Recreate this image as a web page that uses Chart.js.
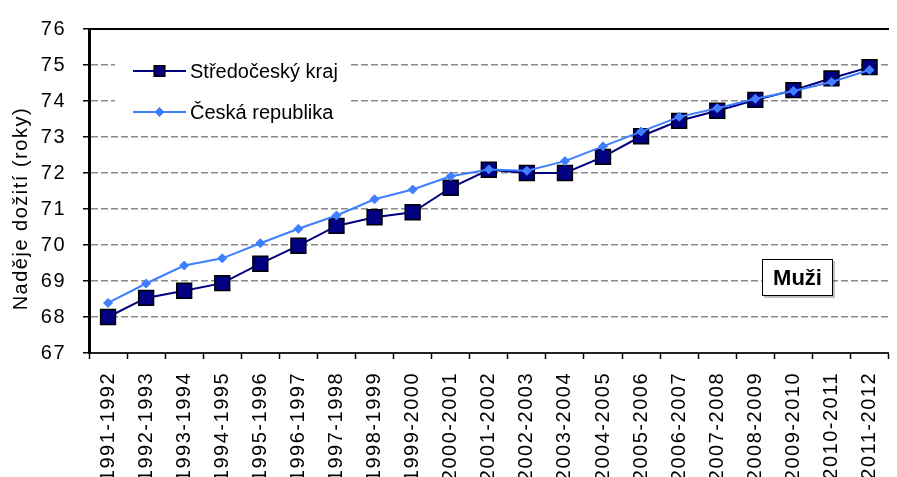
<!DOCTYPE html>
<html lang="cs">
<head>
  <meta charset="UTF-8">
  <title>Naděje dožití – Muži</title>
  <style>
    * { box-sizing: border-box; margin: 0; padding: 0; }
    html, body { width: 897px; height: 477px; overflow: hidden; background: #fff; }
    .wrap { width: 907px; height: 477px; }
  </style>
</head>
<body>
  <div class="wrap"><canvas id="chart" width="907" height="477"></canvas></div>

  <script src="https://cdn.jsdelivr.net/npm/chart.js@4"></script>
  <script>
    const categories = [
      '1991-1992', '1992-1993', '1993-1994', '1994-1995', '1995-1996', '1996-1997', '1997-1998',
      '1998-1999', '1999-2000', '2000-2001', '2001-2002', '2002-2003', '2003-2004', '2004-2005',
      '2005-2006', '2006-2007', '2007-2008', '2008-2009', '2009-2010', '2010-2011', '2011-2012'
    ];
    const stredocesky = [68.00, 68.53, 68.73, 68.94, 69.48, 69.98, 70.53, 70.77, 70.91, 71.59, 72.09,
                         72.00, 72.00, 72.45, 73.02, 73.45, 73.73, 74.03, 74.30, 74.63, 74.94];
    const ceskaRep = [68.39, 68.93, 69.43, 69.63, 70.05, 70.45, 70.82, 71.27, 71.54, 71.91, 72.10,
                      72.06, 72.33, 72.74, 73.15, 73.56, 73.80, 74.06, 74.28, 74.53, 74.86];
    const seriesNames = ['Středočeský kraj', 'Česká republika'];
    const yMin = 67, yMax = 76, yStep = 1;
    const yTitle = 'Naděje dožití (roky)';
    const boxLabel = 'Muži';

    const FONT = "'Liberation Sans', Arial, sans-serif";
    const NAVY = '#000080', BLUE = '#3f7fff';

    // the Excel export has wide letter spacing on axis texts
    const axisSpacing = {
      id: 'axisSpacing',
      beforeDraw(chart) { chart.ctx.letterSpacing = '1.5px'; },
      beforeDatasetsDraw(chart) { chart.ctx.letterSpacing = '0px'; }
    };

    // legend drawn inside the plot, on a white patch (like the Excel original)
    const insideLegend = {
      id: 'insideLegend',
      afterDraw(chart) {
        const ctx = chart.ctx;
        ctx.save();
        ctx.letterSpacing = '0px';
        ctx.fillStyle = '#fff';
        ctx.fillRect(115, 36, 236, 88);
        const rows = [
          { y: 71, ds: chart.data.datasets[0] },
          { y: 112, ds: chart.data.datasets[1] }
        ];
        rows.forEach(r => {
          ctx.strokeStyle = r.ds.borderColor;
          ctx.lineWidth = r.ds.borderWidth;
          ctx.beginPath(); ctx.moveTo(133, r.y); ctx.lineTo(186, r.y); ctx.stroke();
          ctx.fillStyle = r.ds.pointBackgroundColor;
          ctx.strokeStyle = r.ds.pointBorderColor;
          ctx.lineWidth = r.ds.pointBorderWidth;
          Chart.helpers.drawPoint(ctx, {
            pointStyle: r.ds.pointStyle,
            radius: r.ds.pointStyle === 'rect' ? 7.5 : r.ds.pointRadius,
            rotation: 0,
            borderWidth: r.ds.pointBorderWidth
          }, 159.5, r.y);
          ctx.fillStyle = '#000';
          ctx.font = '20px ' + FONT;
          ctx.textBaseline = 'middle';
          ctx.fillText(r.ds.label, 190, r.y + 1);
        });

        // "Muži" box
        ctx.fillStyle = 'rgba(0,0,0,0.25)';
        ctx.fillRect(764, 261, 71, 37);
        ctx.fillStyle = '#fff';
        ctx.fillRect(762, 259, 71, 37);
        ctx.strokeStyle = '#000';
        ctx.lineWidth = 1;
        ctx.strokeRect(762.5, 259.5, 70, 36);
        ctx.fillStyle = '#000';
        ctx.font = 'bold 22px ' + FONT;
        ctx.textAlign = 'center';
        ctx.textBaseline = 'middle';
        ctx.fillText(boxLabel, 797.5, 279);
        ctx.restore();
      }
    };

    new Chart(document.getElementById('chart'), {
      type: 'line',
      data: {
        labels: categories,
        datasets: [
          {
            label: seriesNames[0], data: stredocesky, order: 2,
            borderColor: NAVY, borderWidth: 2, tension: 0,
            pointStyle: 'rect', pointRadius: 10.5,
            pointBackgroundColor: NAVY, pointBorderColor: '#000', pointBorderWidth: 1.5
          },
          {
            label: seriesNames[1], data: ceskaRep, order: 1,
            borderColor: BLUE, borderWidth: 2, tension: 0,
            pointStyle: 'rectRot', pointRadius: 4.5,
            pointBackgroundColor: BLUE, pointBorderColor: BLUE, pointBorderWidth: 1
          }
        ]
      },
      options: {
        responsive: false,
        animation: false,
        events: [],
        layout: { padding: { top: 22, left: 0, right: 0, bottom: 0 } },
        plugins: { legend: { display: false }, tooltip: { enabled: false } },
        scales: {
          x: {
            type: 'category',
            offset: true,
            afterFit: s => { s.height = 124; },
            grid: { offset: true, drawOnChartArea: false, tickLength: 6, tickColor: '#000', tickWidth: 1.5 },
            border: { color: '#222', width: 2 },
            ticks: {
              autoSkip: false, minRotation: 90, maxRotation: 90, padding: 13,
              color: '#000', font: { family: FONT, size: 20 }
            }
          },
          xTop: {
            type: 'category',
            position: 'top',
            offset: true,
            afterFit: s => { s.height = 0; },
            grid: { display: false },
            border: { color: '#000', width: 2 },
            ticks: { display: false }
          },
          y: {
            min: yMin, max: yMax,
            afterFit: s => { s.width = 89; },
            grid: {
              color: c => (c.tick.value === yMin || c.tick.value === yMax) ? 'rgba(0,0,0,0)' : '#8a8a8a',
              lineWidth: 1.5,
              tickLength: 6, tickColor: '#000', tickWidth: 1.5
            },
            border: { color: '#000', width: 3, dash: [7, 3] },
            ticks: {
              stepSize: yStep, padding: 17, color: '#000',
              font: { family: FONT, size: 20 }
            },
            title: {
              display: true, text: yTitle + '     ', color: '#000',
              font: { family: FONT, size: 20 },
              padding: { top: 9, bottom: 0 }
            }
          }
        }
      },
      plugins: [axisSpacing, insideLegend]
    });
  </script>
</body>
</html>
